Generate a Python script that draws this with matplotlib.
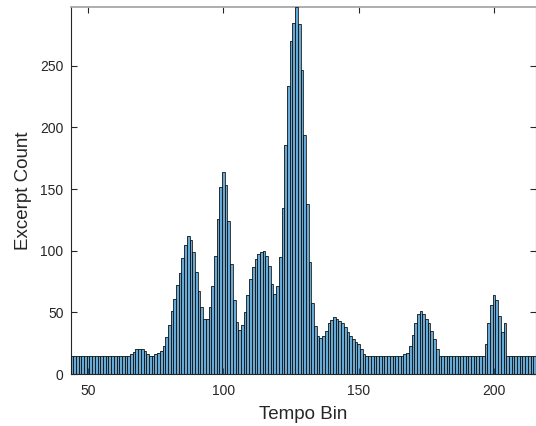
import numpy as np
import matplotlib
matplotlib.use("Agg")
import matplotlib.pyplot as plt

plt.rcParams['font.family'] = ['Liberation Sans', 'DejaVu Sans']

# Bin centres (tempo, one bin per integer)
bin_centers = list(range(44, 216))

# Excerpt counts per tempo bin
counts = [
    # 44-65
    15, 15, 15, 15, 15, 15, 15, 15, 15, 15, 15, 15, 15, 15, 15, 15, 15, 15, 15, 15, 15, 15,
    # 66-75
    16, 18, 20, 20, 20, 19, 16, 15, 15, 16,
    # 76-85
    17, 19, 23, 30, 40, 51, 61, 72, 82, 94,
    # 86-95
    105, 112, 109, 99, 83, 67, 54, 45, 45, 54,
    # 96-105
    71, 96, 126, 152, 164, 153, 124, 89, 60, 42,
    # 106-115
    36, 40, 50, 64, 77, 87, 93, 97, 99, 100,
    # 116-125
    96, 88, 73, 65, 71, 95, 135, 186, 234, 270,
    # 126-135
    285, 298, 284, 247, 194, 138, 91, 58, 39, 31,
    # 136-145
    29, 31, 35, 41, 44, 46, 45, 43, 41, 38,
    # 146-152
    34, 31, 28, 26, 24, 20, 16,
    # 153-166
    15, 15, 15, 15, 15, 15, 15, 15, 15, 15, 15, 15, 15, 15,
    # 167-179
    16, 17, 23, 32, 41, 49, 51, 49, 45, 41, 35, 28, 20,
    # 180-196
    15, 15, 15, 15, 15, 15, 15, 15, 15, 15, 15, 15, 15, 15, 15, 15, 15,
    # 197-204
    24, 41, 56, 64, 60, 47, 34, 41,
    # 205-215
    15, 15, 15, 15, 15, 15, 15, 15, 15, 15, 15,
]

x_ticks = [50, 100, 150, 200]
y_ticks = [0, 50, 100, 150, 200, 250]

fig = plt.figure(figsize=(5.36, 4.26), dpi=100)
ax = fig.add_axes([70.5 / 536, 52 / 426, (536 - 70.5) / 536, (374 - 6.7) / 426])

ax.bar(bin_centers, counts, width=1.0, color=(0.0, 0.447, 0.741), alpha=0.6,
       edgecolor='none', linewidth=0, zorder=2)
ax.bar(bin_centers, counts, width=1.0, facecolor='none',
       edgecolor='#1a1a1a', linewidth=0.6, zorder=3)

ax.set_xlim(43.5, 215.5)
ax.set_ylim(0, 298)
ax.set_xticks(x_ticks)
ax.set_yticks(y_ticks)

dark = '#262626'
ax.tick_params(axis='both', which='both', direction='in', length=4, width=0.8,
               colors=dark, labelsize=10, top=True, right=True, pad=5)
ax.tick_params(axis='x', pad=7)
for s in ['left', 'bottom', 'right']:
    ax.spines[s].set_color(dark)
    ax.spines[s].set_linewidth(0.8)
ax.spines['top'].set_color('#a0a0a0')
ax.spines['top'].set_linewidth(1.2)

ax.set_xlabel('Tempo Bin', fontsize=13.5, color=dark, labelpad=6)
ax.set_ylabel('Excerpt Count', fontsize=13.5, color=dark, labelpad=6)

fig.savefig('out.png', dpi=100)
